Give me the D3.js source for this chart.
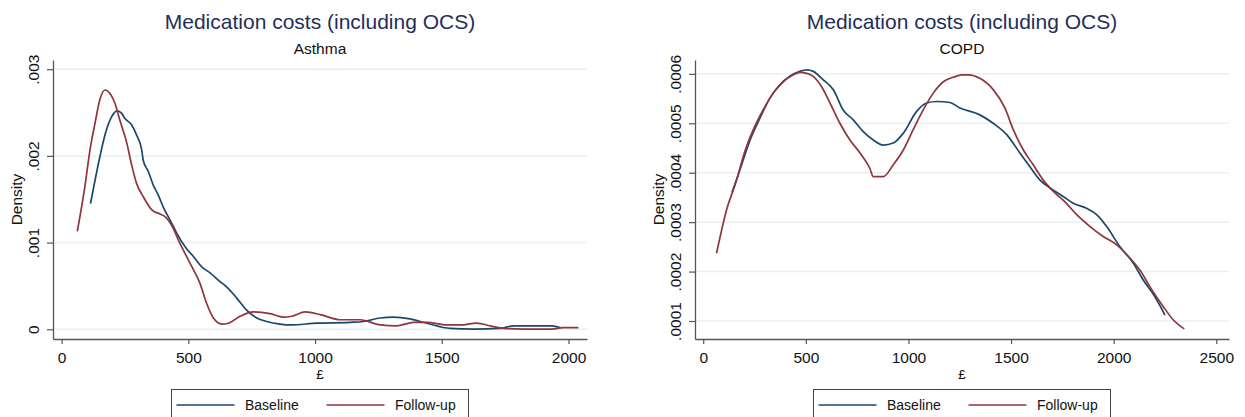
<!DOCTYPE html>
<html>
<head>
<meta charset="utf-8">
<script src="https://cdn.jsdelivr.net/npm/d3@7"></script>
<style>
  body { margin: 0; background: #fff; }
  svg { display: block; font-family: "Liberation Sans", Arial, sans-serif; }
</style>
</head>
<body>
<div id="chart"></div>
<script>
// kernel density estimates: [cost in £, density]
var asthmaBaseline = [[114,0.00145],[151,0.00199],[171,0.00224],[197,0.00245],[219,0.00252],[237,0.00249],[250,0.00243],
  [276,0.00236],[296,0.00224],[316,0.00207],[322,0.00195],[342,0.00182],[362,0.00166],[381,0.00155],[401,0.00141],
  [428,0.00126],[454,0.00111],[493,0.00093],[520,0.00084],[553,0.00072],[586,0.00065],[625,0.00055],[651,0.00049],
  [691,0.00036],[730,0.00022],[770,0.00013],[809,0.00009],[862,0.00006],[901,0.00005],[1007,0.00007],[1138,0.00008],
  [1191,0.00009],[1257,0.00013],[1309,0.00014],[1375,0.00012],[1441,0.00007],[1533,0.00001],[1625,0.000003],
  [1730,0.00001],[1783,0.00004],[1849,0.00004],[1934,0.00004],[1967,0.00002]];

var asthmaFollowup = [[62,0.00113],[92,0.00165],[112,0.00207],[132,0.00238],[151,0.00265],[171,0.00276],[191,0.00272],
  [210,0.00261],[230,0.00241],[257,0.00215],[276,0.0019],[296,0.00168],[322,0.00153],[355,0.00138],[388,0.00133],
  [408,0.0013],[434,0.0012],[467,0.00099],[507,0.00076],[546,0.00053],[572,0.0003],[599,0.00013],[632,0.00006],
  [658,0.00007],[704,0.00015],[757,0.0002],[822,0.00018],[875,0.00014],[908,0.00015],[961,0.0002],[1020,0.00017],
  [1099,0.00011],[1178,0.00011],[1257,0.00005],[1322,0.00004],[1388,0.00008],[1441,0.00008],[1520,0.00005],
  [1572,0.00005],[1638,0.00007],[1691,0.00004],[1743,0.00001],[1822,0.000003],[1934,0.000003],[1980,0.00002],[2039,0.00002]];

var copdBaseline = [[140,0.00036],[179,0.000406],[228,0.000466],[276,0.00051],[325,0.000551],[374,0.000578],[422,0.000595],
  [471,0.000605],[504,0.000608],[536,0.000605],[585,0.000588],[634,0.000568],[682,0.000527],[731,0.000507],[780,0.000483],
  [829,0.000466],[877,0.000456],[926,0.00046],[975,0.00048],[1040,0.000524],[1089,0.000541],[1137,0.000544],[1202,0.000542],
  [1251,0.000531],[1348,0.000517],[1413,0.0005],[1479,0.000477],[1543,0.00044],[1592,0.000412],[1641,0.000385],
  [1690,0.000369],[1754,0.000352],[1803,0.000338],[1868,0.000328],[1917,0.000315],[1966,0.000291],[2031,0.00025],
  [2096,0.000217],[2144,0.000183],[2201,0.000149],[2250,0.000112]];

var copdFollowup = [[65,0.000237],[114,0.000325],[163,0.000385],[195,0.000433],[244,0.000487],[292,0.000527],[341,0.000561],
  [390,0.000584],[439,0.000598],[471,0.000603],[504,0.000601],[536,0.000595],[577,0.000574],[618,0.000541],[666,0.0005],
  [715,0.000466],[764,0.00044],[812,0.000409],[829,0.000392],[877,0.000392],[926,0.000416],[975,0.000446],[1023,0.000487],
  [1072,0.000527],[1121,0.000561],[1170,0.000584],[1218,0.000593],[1260,0.000598],[1291,0.000598],[1348,0.000591],
  [1413,0.000568],[1470,0.000531],[1511,0.000487],[1560,0.000446],[1608,0.000416],[1657,0.000385],[1714,0.000359],
  [1763,0.000341],[1820,0.000315],[1885,0.000291],[1949,0.000271],[2015,0.000254],[2080,0.000227],[2128,0.000203],
  [2177,0.000169],[2242,0.000129],[2291,0.000102],[2344,0.000084]];

var asthmaXTicks = [0, 500, 1000, 1500, 2000];
var asthmaYTicks = [0, 0.001, 0.002, 0.003];
var asthmaYLabels = ["0", ".001", ".002", ".003"];
var copdXTicks = [0, 500, 1000, 1500, 2000, 2500];
var copdYTicks = [0.0001, 0.0002, 0.0003, 0.0004, 0.0005, 0.0006];
var copdYLabels = [".0001", ".0002", ".0003", ".0004", ".0005", ".0006"];
var seriesNames = ["Baseline", "Follow-up"];

var blue = "#1a476f", red = "#90353b";

var svg = d3.select("#chart").append("svg")
    .attr("width", 1245)
    .attr("height", 417);

function panel(opts) {
  var x = d3.scaleLinear().domain(opts.xDomain).range([opts.left, opts.right]);
  var y = d3.scaleLinear().domain(opts.yDomain).range([339, 60]);
  var cx = (opts.left + opts.right) / 2;
  var g = svg.append("g");

  // gridlines
  g.selectAll(".grid")
    .data(opts.yTicks)
    .enter().append("line")
      .attr("x1", opts.left).attr("x2", opts.right)
      .attr("y1", function(d) { return y(d); })
      .attr("y2", function(d) { return y(d); })
      .attr("stroke", "#e9eff2")
      .attr("stroke-width", 1.5);

  var line = d3.line()
      .x(function(d) { return x(d[0]); })
      .y(function(d) { return y(d[1]); })
      .curve(d3.curveMonotoneX);

  g.append("path").datum(opts.base)
      .attr("d", line).attr("fill", "none")
      .attr("stroke", blue).attr("stroke-width", 1.7);
  g.append("path").datum(opts.follow)
      .attr("d", line).attr("fill", "none")
      .attr("stroke", red).attr("stroke-width", 1.7);

  // y axis
  var ya = g.append("g")
      .attr("transform", "translate(" + opts.left + ",0)")
      .call(d3.axisLeft(y).tickValues(opts.yTicks).tickSize(6).tickSizeOuter(0)
        .tickFormat(function(d, i) { return opts.yLabels[i]; }));
  ya.select(".domain").attr("stroke", "#555").attr("stroke-width", 1.3);
  ya.selectAll(".tick line").attr("stroke", "#555").attr("stroke-width", 1.2);
  ya.selectAll(".tick text")
      .attr("transform", "rotate(-90)")
      .attr("x", 0).attr("y", -14).attr("dy", 0)
      .attr("text-anchor", "middle")
      .attr("font-size", 15.5).attr("fill", "#111")
      .attr("font-family", "Liberation Sans, Arial, sans-serif");

  // x axis
  var xa = g.append("g")
      .attr("transform", "translate(0,339)")
      .call(d3.axisBottom(x).tickValues(opts.xTicks).tickSize(5).tickSizeOuter(0)
        .tickFormat(d3.format("d")));
  xa.select(".domain").attr("stroke", "#555").attr("stroke-width", 1.3);
  xa.selectAll(".tick line").attr("stroke", "#555").attr("stroke-width", 1.2);
  xa.selectAll(".tick text")
      .attr("y", 24).attr("dy", 0)
      .attr("font-size", 15.5).attr("fill", "#111")
      .attr("font-family", "Liberation Sans, Arial, sans-serif");

  // titles
  g.append("text").attr("x", cx).attr("y", 28.5)
      .attr("text-anchor", "middle").attr("font-size", 21).attr("fill", "#1f2f5a")
      .text("Medication costs (including OCS)");
  g.append("text").attr("x", cx).attr("y", 53.5)
      .attr("text-anchor", "middle").attr("font-size", 15.5).attr("fill", "#111")
      .text(opts.subtitle);
  g.append("text").attr("x", cx).attr("y", 379)
      .attr("text-anchor", "middle").attr("font-size", 13.5).attr("fill", "#111")
      .text("£");
  g.append("text")
      .attr("transform", "translate(" + (opts.left - 31.5) + ",199.5) rotate(-90)")
      .attr("text-anchor", "middle").attr("font-size", 15.5).attr("fill", "#111")
      .text("Density");

  // legend
  var lx = cx - 148.5;
  var leg = g.append("g").attr("transform", "translate(" + lx + ",389.5)");
  leg.append("rect").attr("width", 297).attr("height", 40)
      .attr("fill", "#fff").attr("stroke", "#444").attr("stroke-width", 1);
  var items = leg.selectAll(".item")
      .data(seriesNames)
      .enter().append("g")
      .attr("transform", function(d, i) { return "translate(" + (5 + i * 150) + ",0)"; });
  items.append("line")
      .attr("x1", 0).attr("x2", 58).attr("y1", 15.5).attr("y2", 15.5)
      .attr("stroke", function(d, i) { return i ? red : blue; })
      .attr("stroke-width", 1.7);
  items.append("text")
      .attr("x", 68.5).attr("y", 20.5)
      .attr("font-size", 14).attr("fill", "#111")
      .text(function(d) { return d; });
}

panel({
  left: 53, right: 587,
  xDomain: [-34, 2073], yDomain: [-0.000112, 0.003106],
  xTicks: asthmaXTicks, yTicks: asthmaYTicks, yLabels: asthmaYLabels,
  base: asthmaBaseline, follow: asthmaFollowup, subtitle: "Asthma"
});

panel({
  left: 695, right: 1229,
  xDomain: [-40, 2562], yDomain: [0.0000636, 0.000628],
  xTicks: copdXTicks, yTicks: copdYTicks, yLabels: copdYLabels,
  base: copdBaseline, follow: copdFollowup, subtitle: "COPD"
});
</script>
</body>
</html>
